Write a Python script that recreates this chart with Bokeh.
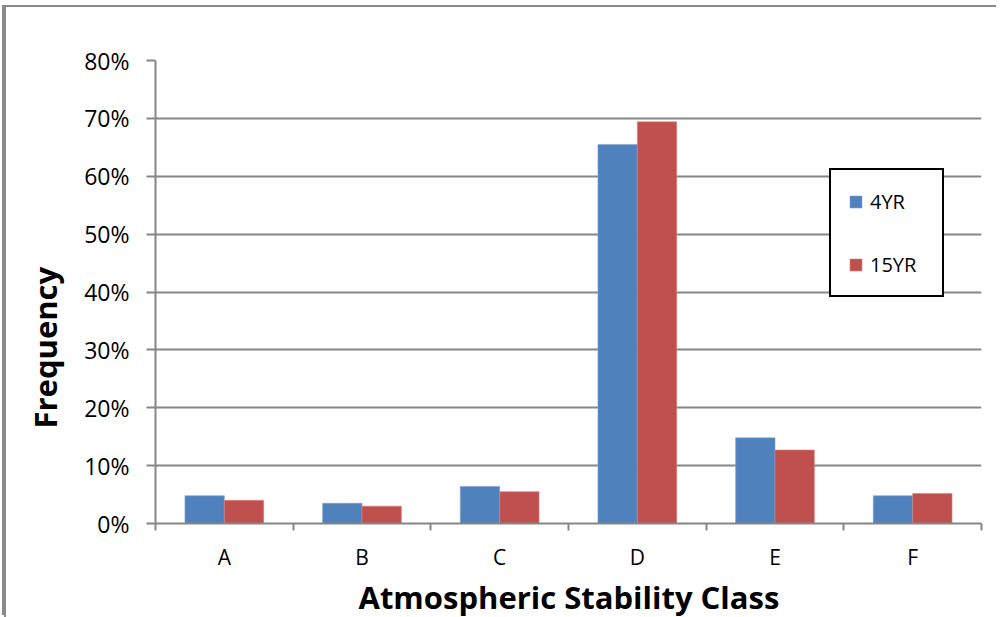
from bokeh.plotting import figure
from bokeh.models import (Range1d, FixedTicker, NumeralTickFormatter, Legend, LegendItem, Title)
from bokeh.embed import file_html
from bokeh.resources import INLINE

categories = ["A", "B", "C", "D", "E", "F"]
series_names = ["4YR", "15YR"]
values_4yr = [0.048, 0.035, 0.064, 0.655, 0.148, 0.048]
values_15yr = [0.040, 0.030, 0.055, 0.694, 0.127, 0.052]
y_ticks = [0.0, 0.1, 0.2, 0.3, 0.4, 0.5, 0.6, 0.7, 0.8]
x_title = "Atmospheric Stability Class"
y_title = "Frequency"

FONT = "Open Sans"
GRID = "#868686"
BLUE = "#4F81BD"
RED = "#C0504D"

OX, OY = 6, 7            # canvas offset on the page (margin + border)
FL, FT, FB, FR = 155, 60, 525, 981  # frame edges in page pixels
W, H = 1000 - OX, 617 - OY

p = figure(width=W, height=H, output_backend="svg", toolbar_location=None,
           x_range=Range1d(0, len(categories)), y_range=Range1d(0, 0.8),
           min_border_left=FL - OX, min_border_right=W - (FR - OX), min_border_top=FT - OY,
           min_border_bottom=H - (FB - OY))
p.styles = {"margin-left": "4px", "margin-top": "7px",
            "border-left": "2px solid #8a8a8a",
            "box-shadow": "-2px -2px 0 0 #8a8a8a"}
p.outline_line_color = None
p.background_fill_color = "white"
p.border_fill_color = "white"

centers = [i + 0.5 for i in range(len(categories))]
w = 0.286
b1 = p.vbar(x=[c - w / 2 for c in centers], top=values_4yr, width=w, bottom=0,
            fill_color=BLUE, line_color="#7fa3d0", line_width=0.6)
b2 = p.vbar(x=[c + w / 2 for c in centers], top=values_15yr, width=w, bottom=0,
            fill_color=RED, line_color="#d98582", line_width=0.6)

# x axis: labels at centres, ticks at category boundaries
xa = p.xaxis[0]
xa.ticker = FixedTicker(ticks=centers, minor_ticks=list(range(len(categories) + 1)))
xa.major_label_overrides = {c: cat for c, cat in zip(centers, categories)}
xa.major_tick_out = 0
xa.major_tick_in = 0
xa.minor_tick_out = 7
xa.minor_tick_in = 0
xa.minor_tick_line_color = GRID
xa.minor_tick_line_width = 2
xa.axis_line_color = GRID
xa.axis_line_width = 2
xa.major_label_text_font = FONT
xa.major_label_text_font_size = "21px"
xa.major_label_text_color = "black"
xa.major_label_standoff = 12

ya = p.yaxis[0]
ya.ticker = FixedTicker(ticks=y_ticks)
ya.formatter = NumeralTickFormatter(format="0%")
ya.major_tick_out = 9
ya.major_tick_in = 0
ya.minor_tick_line_color = None
ya.major_tick_line_color = GRID
ya.major_tick_line_width = 2
ya.axis_line_color = GRID
ya.axis_line_width = 2
ya.major_label_text_font = FONT
ya.major_label_text_font_size = "23px"
ya.major_label_text_color = "black"
ya.major_label_standoff = 17

p.xgrid.grid_line_color = None
p.ygrid.grid_line_color = GRID
p.ygrid.grid_line_width = 2

legend = Legend(items=[LegendItem(label=series_names[0], renderers=[b1]),
                       LegendItem(label=series_names[1], renderers=[b2])],
                location=(829 - FL, FB - 299), padding=17, spacing=35,
                glyph_width=15, glyph_height=15, label_height=28, label_width=55,
                label_standoff=7, label_text_font=FONT, label_text_font_size="20px",
                label_text_color="black",
                border_line_color="black", border_line_width=2, border_line_alpha=1,
                background_fill_color="white", background_fill_alpha=1)
p.add_layout(legend, "center")

p.add_layout(Title(text=x_title, align="left", offset=358 - FL, standoff=0,
                   text_font=FONT, text_font_style="bold", text_font_size="31px",
                   text_color="black"), "below")
p.add_layout(Title(text=y_title, align="left", offset=FB - 430, standoff=31,
                   text_font=FONT, text_font_style="bold", text_font_size="31px",
                   text_color="black"), "left")

open("out.html", "w").write(file_html(p, INLINE))
